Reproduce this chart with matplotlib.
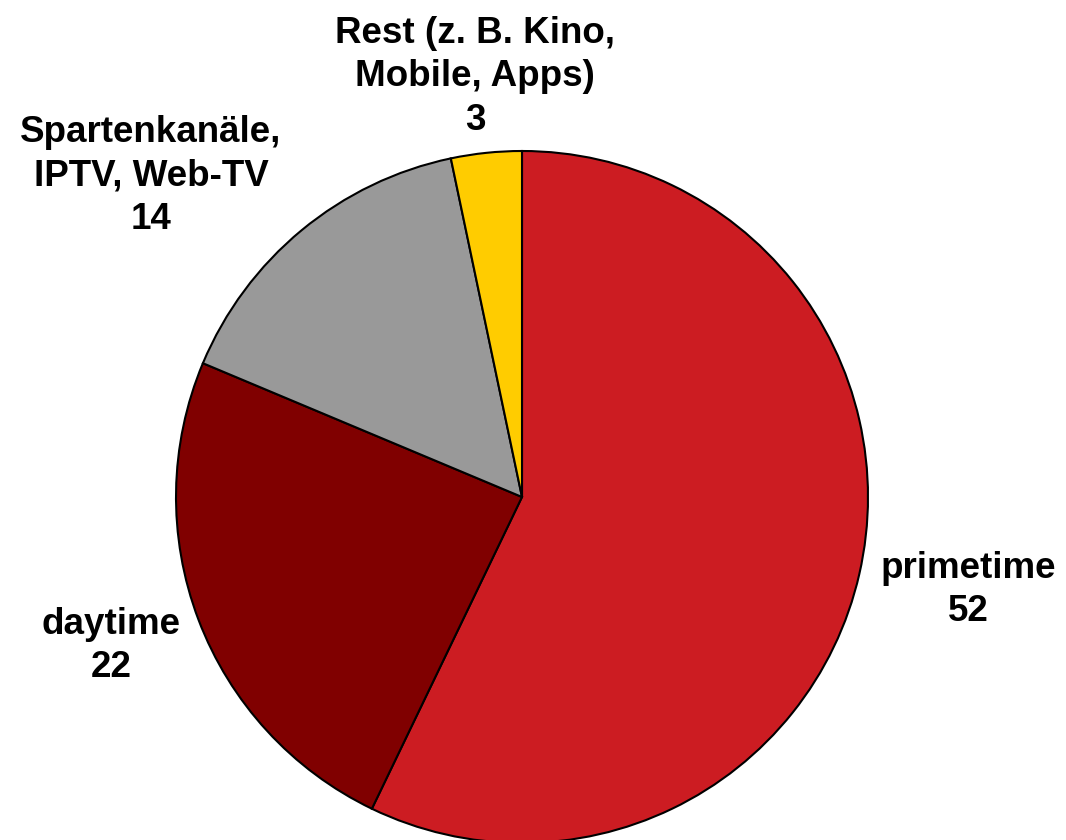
import matplotlib
matplotlib.use("Agg")
import matplotlib.pyplot as plt

# Nutzungsanteile (in %)
labels = ["primetime", "daytime", "Spartenkanäle,\nIPTV, Web-TV", "Rest (z. B. Kino,\nMobile, Apps)"]
values = [52, 22, 14, 3]
colors = ["#cc1c22", "#800000", "#999999", "#ffcc00"]

# label centres in pixels (x from left, y from top)
label_pos = [(968, 590), (111, 646), (151, 176), (475, 77)]

W, H = 1066, 840
cx, cy, r = 522, 497, 346

plt.rcParams["font.family"] = ["Liberation Sans", "DejaVu Sans"]

fig = plt.figure(figsize=(W / 100, H / 100), dpi=100)
ax = fig.add_axes([0, 0, 1, 1])
ax.pie(values, colors=colors, startangle=90, counterclock=False,
       wedgeprops=dict(edgecolor="black", linewidth=1.5))
ax.set_xlim(-cx / r, (W - cx) / r)
ax.set_ylim(-(H - cy) / r, cy / r)
ax.set_aspect("auto")
ax.axis("off")

for lab, val, (px, py) in zip(labels, values, label_pos):
    fig.text(px / W, 1 - py / H, f"{lab}\n{val}", ha="center", va="center",
             fontsize=26.5, fontweight="bold", linespacing=1.3)

fig.savefig("out.png", dpi=100)
